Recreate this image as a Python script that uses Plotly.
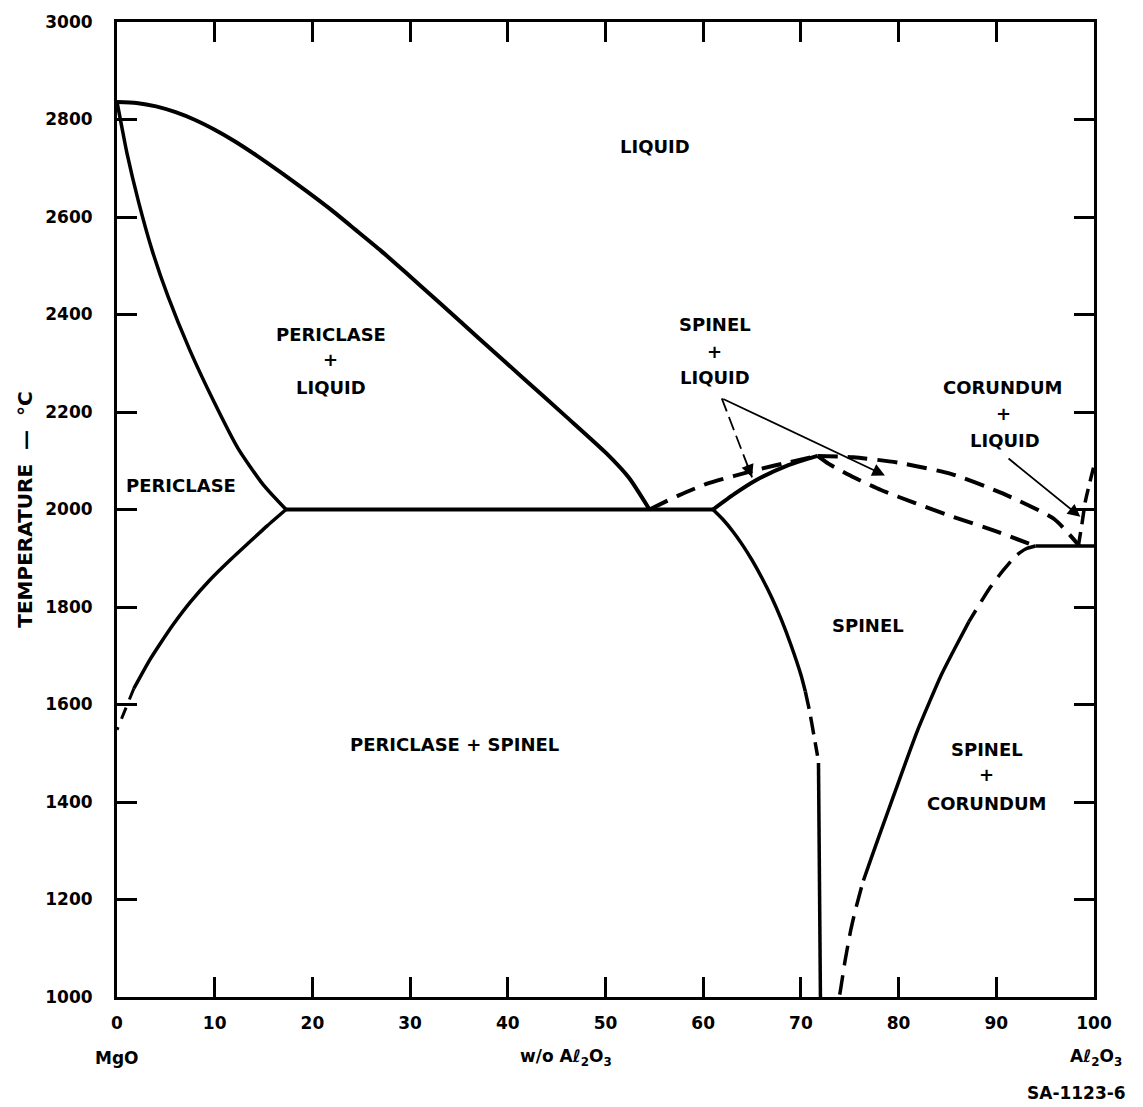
import plotly.graph_objects as go

# ---------------- data: w/o Al2O3 (x) and temperature in deg C (t) ----------------
periclase_liquidus_x = [0, 2, 4, 6, 8, 10, 12, 14.3, 16.8, 19.4, 21.9, 24.4, 27, 29.5, 32.9,
                        37, 41.5, 46, 50.1, 52.4, 54.5]
periclase_liquidus_t = [2836, 2834, 2827, 2815, 2799, 2779, 2756, 2726, 2691, 2653, 2615, 2574, 2531, 2487, 2426,
                        2352, 2271, 2190, 2115, 2065, 2000]

periclase_solidus_x = [0, 0.5, 1.03, 2.22, 3.62, 5.22, 7.43, 9.95, 12.4, 15.0, 17.3]
periclase_solidus_t = [2836, 2784, 2730, 2630, 2530, 2437, 2328, 2220, 2125, 2050, 2000]

periclase_solvus_x = [17.3, 15.4, 13.6, 11.5, 9.48, 7.5, 5.75, 4.4, 3.28, 1.73]
periclase_solvus_t = [2000, 1967, 1934, 1895, 1855, 1810, 1764, 1724, 1689, 1633]
periclase_solvus_tail_x = [1.73, 1.0, 0.0]
periclase_solvus_tail_t = [1633, 1597, 1548]

eutectic_mgo_x = [17.3, 61.0]
eutectic_mgo_t = [2000, 2000]

spinel_liquidus_left_x = [54.5, 57.5, 60.4, 63.2, 65.8, 68.8, 71.7]
spinel_liquidus_left_t = [2000, 2029, 2053, 2069, 2083, 2097, 2110]

spinel_solidus_left_x = [61.0, 63.2, 65.4, 68.6, 71.7]
spinel_solidus_left_t = [2000, 2032, 2060, 2090, 2110]

spinel_solvus_left_x = [61.0, 62.0, 63.0, 64.0, 65.0, 66.0, 67.0, 68.0, 69.0, 70.0, 70.45]
spinel_solvus_left_t = [2000, 1980, 1956, 1928, 1896, 1860, 1820, 1774, 1721, 1661, 1627]
spinel_solvus_left_dash_x = [70.45, 70.9, 71.3, 71.7]
spinel_solvus_left_dash_t = [1627, 1585, 1540, 1495]
spinel_solvus_left_low_x = [71.8, 72.0]
spinel_solvus_left_low_t = [1480, 1000]

spinel_liquidus_right_x = [71.7, 75.4, 80.0, 85.35, 90.65, 95.95, 98.5]
spinel_liquidus_right_t = [2110, 2107, 2096, 2073, 2033, 1980, 1925]

spinel_solidus_right_x = [71.7, 72.9, 75.5, 78.2, 81.7, 85.3, 90.0, 94.0]
spinel_solidus_right_t = [2110, 2093, 2065, 2040, 2013, 1987, 1955, 1925]

spinel_solvus_right_top_x = [94.0, 93.0, 92.0, 90.7, 89.3, 87.2]
spinel_solvus_right_top_t = [1925, 1919, 1905, 1875, 1838, 1770]
spinel_solvus_right_mid_x = [87.2, 85.8, 84.4, 83.2, 82.0, 80.9, 79.8, 78.9, 78.0, 77.2, 76.4]
spinel_solvus_right_mid_t = [1770, 1717, 1662, 1607, 1550, 1491, 1430, 1380, 1330, 1285, 1239]
spinel_solvus_right_low_x = [76.2, 75.6, 75.1, 74.5, 74.0, 73.9]
spinel_solvus_right_low_t = [1225, 1180, 1137, 1072, 1008, 1000]

eutectic_al2o3_x = [94.0, 100.0]
eutectic_al2o3_t = [1925, 1925]

corundum_liquidus_x = [98.4, 98.8, 99.1, 99.5, 100.0]
corundum_liquidus_t = [1925, 1975, 2015, 2050, 2090]

x_tick_values = [0, 10, 20, 30, 40, 50, 60, 70, 80, 90, 100]
y_tick_values = [1000, 1200, 1400, 1600, 1800, 2000, 2200, 2400, 2600, 2800, 3000]

# region labels: text, x, temperature
label_text = ["LIQUID", "PERICLASE", "+", "LIQUID", "PERICLASE",
              "SPINEL", "+", "LIQUID", "CORUNDUM", "+", "LIQUID",
              "SPINEL", "SPINEL", "+", "CORUNDUM", "PERICLASE + SPINEL"]
label_x = [55.1, 21.9, 21.9, 21.9, 6.6,
           61.2, 61.2, 61.2, 90.7, 90.7, 90.9,
           76.9, 89.0, 89.0, 89.0, 34.5]
label_t = [2745, 2359, 2307, 2250, 2049,
           2379, 2324, 2271, 2250, 2197, 2142,
           1763, 1508, 1457, 1397, 1518]

# pointer arrows: tail (x, t) -> head (x, t)
arrow_tail_x = [61.9, 61.9, 91.1]
arrow_tail_t = [2228, 2228, 2107]
arrow_head_x = [65.0, 78.6, 98.6]
arrow_head_t = [2066, 2070, 1985]
arrow_dashed = [True, False, False]

# ---------------- figure ----------------
FONT = "DejaVu Sans"
fig = go.Figure()

def curve(x, t, dash="solid", width=4):
    fig.add_trace(go.Scatter(x=x, y=t, mode="lines",
                             line=dict(color="black", width=width, dash=dash,
                                       shape="spline", smoothing=0.6),
                             hoverinfo="skip", showlegend=False))

DASH = "20px,10px"
curve(periclase_liquidus_x, periclase_liquidus_t)
curve(periclase_solidus_x, periclase_solidus_t, width=3.5)
curve(periclase_solvus_x, periclase_solvus_t, width=3.5)
curve(periclase_solvus_tail_x, periclase_solvus_tail_t, dash="12px,9px", width=3)
curve(eutectic_mgo_x, eutectic_mgo_t)
curve(spinel_liquidus_left_x, spinel_liquidus_left_t, dash=DASH)
curve(spinel_solidus_left_x, spinel_solidus_left_t)
curve(spinel_solvus_left_x, spinel_solvus_left_t, width=3.5)
curve(spinel_solvus_left_dash_x, spinel_solvus_left_dash_t, dash="18px,8px", width=3.5)
curve(spinel_solvus_left_low_x, spinel_solvus_left_low_t, width=3.5)
curve(spinel_liquidus_right_x, spinel_liquidus_right_t, dash=DASH)
curve(spinel_solidus_right_x, spinel_solidus_right_t, dash=DASH)
curve(spinel_solvus_right_top_x, spinel_solvus_right_top_t, dash=DASH, width=3.5)
curve(spinel_solvus_right_mid_x, spinel_solvus_right_mid_t, width=3.5)
curve(spinel_solvus_right_low_x, spinel_solvus_right_low_t, dash=DASH, width=3.5)
curve(eutectic_al2o3_x, eutectic_al2o3_t, width=3.5)
curve(corundum_liquidus_x, corundum_liquidus_t, dash="14px,8px", width=3.5)

annotations = []
for txt, lx, lt in zip(label_text, label_x, label_t):
    annotations.append(dict(x=lx, y=lt, xref="x", yref="y", text=txt, showarrow=False,
                            xanchor="center", yanchor="middle",
                            font=dict(family=FONT, size=18, color="black", weight="bold")))

for tx, tt, hx, ht, dashed in zip(arrow_tail_x, arrow_tail_t, arrow_head_x, arrow_head_t, arrow_dashed):
    if dashed:
        fig.add_trace(go.Scatter(x=[tx, hx], y=[tt, ht], mode="lines",
                                 line=dict(color="black", width=1.8, dash="14px,6px"),
                                 hoverinfo="skip", showlegend=False))
        sx, st = hx + 0.18 * (tx - hx), ht + 0.18 * (tt - ht)
    else:
        sx, st = tx, tt
    annotations.append(dict(x=hx, y=ht, ax=sx, ay=st, xref="x", yref="y", axref="x", ayref="y",
                            text="", showarrow=True, arrowhead=2, arrowsize=1.4,
                            arrowwidth=1.8, arrowcolor="black"))

# axis captions
cap_font = dict(family=FONT, size=17, color="black", weight="bold")
annotations += [
    dict(x=0, y=-0.0623, xref="x", yref="paper", text="MgO", showarrow=False,
         xanchor="center", yanchor="middle", font=cap_font),
    dict(x=46.0, y=-0.0623, xref="x", yref="paper", text="w/o A\u2113<sub>2</sub>O<sub>3</sub>",
         showarrow=False, xanchor="center", yanchor="middle", font=cap_font),
    dict(x=1.002, y=-0.0623, xref="paper", yref="paper", text="A\u2113<sub>2</sub>O<sub>3</sub>",
         showarrow=False, xanchor="center", yanchor="middle", font=cap_font),
    dict(x=1.035, y=-0.098, xref="paper", yref="paper", text="SA-1123-6", showarrow=False,
         xanchor="right", yanchor="middle", font=dict(family=FONT, size=17, color="black", weight="bold")),
    dict(x=-0.095, y=0.5, xref="paper", yref="paper",
         text="TEMPERATURE\u00a0\u00a0\u2014\u00a0\u00a0\u00b0C", textangle=-90, showarrow=False,
         xanchor="center", yanchor="middle",
         font=dict(family=FONT, size=20, color="black", weight="bold")),
]

axis_common = dict(showline=True, linewidth=3, linecolor="black", mirror="ticks",
                   ticks="inside", ticklen=20, tickwidth=2.5, tickcolor="black",
                   showgrid=False, zeroline=False,
                   tickfont=dict(family=FONT, size=17, color="black", weight="bold"))

fig.update_xaxes(range=[0, 100], tickvals=x_tick_values, ticklabelstandoff=9, **axis_common)
fig.update_yaxes(range=[1000, 3000], tickvals=y_tick_values, ticklabelstandoff=18, **axis_common)

fig.update_layout(width=1143, height=1107, margin=dict(l=117, r=49, t=18, b=110),
                  plot_bgcolor="white", paper_bgcolor="white", showlegend=False,
                  annotations=annotations)

fig.write_html("out.html", config={"displayModeBar": False},
               post_script="document.body.style.margin='0px';")
